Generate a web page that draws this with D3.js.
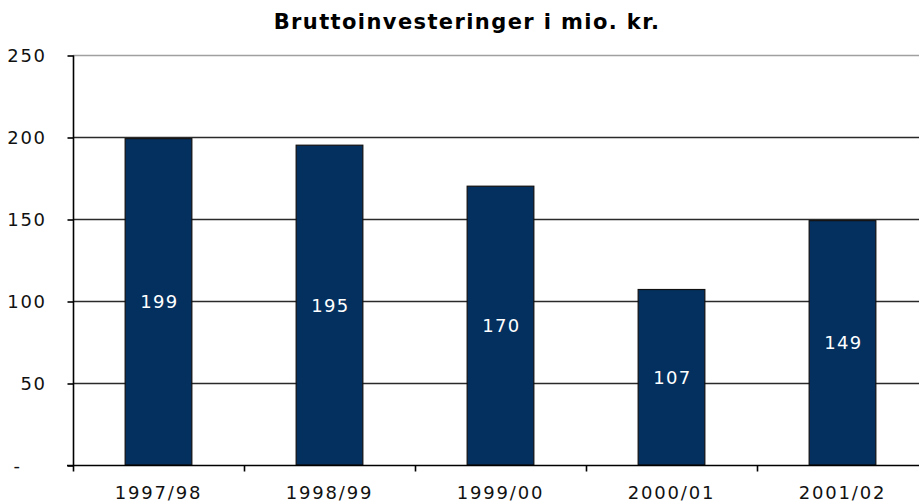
<!DOCTYPE html>
<html>
<head>
<meta charset="utf-8">
<script src="https://cdn.jsdelivr.net/npm/d3@7"></script>
<style>
  html, body { margin: 0; padding: 0; background: #fff; }
  svg { display: block; }
  text { font-family: "DejaVu Sans", Verdana, sans-serif; }
</style>
</head>
<body>
<svg id="chart" width="919" height="504"></svg>
<script>
const title = "Bruttoinvesteringer i mio. kr.";
const categories = ["1997/98", "1998/99", "1999/00", "2000/01", "2001/02"];
const values = [199, 195, 170, 107, 149];
const yTicks = [0, 50, 100, 150, 200, 250];
const yTickLabels = ["-", "50", "100", "150", "200", "250"];

const svg = d3.select("#chart");
const mLeft = 73, mRight = 928, mTop = 55, mBottom = 465;

const x = d3.scaleBand().domain(categories).range([mLeft, mRight]).padding(0);
const y = d3.scaleLinear().domain([0, 250]).range([mBottom, mTop]);
const barW = x.bandwidth() * 0.39;

// title
svg.append("text")
  .attr("x", 467).attr("y", 29)
  .attr("text-anchor", "middle")
  .attr("font-size", 21).attr("font-weight", "bold")
  .attr("letter-spacing", 1.4)
  .attr("fill", "#000")
  .text(title);

// gridlines
svg.append("g").selectAll("line")
  .data(yTicks.filter(d => d > 0))
  .join("line")
  .attr("x1", mLeft).attr("x2", 919)
  .attr("y1", d => Math.round(y(d)) + 0.5).attr("y2", d => Math.round(y(d)) + 0.5)
  .attr("stroke", d => d === 250 ? "#a0a0a0" : "#2a2a2a")
  .attr("stroke-width", 1.6);

// bars
svg.append("g").selectAll("rect")
  .data(values)
  .join("rect")
  .attr("x", (d, i) => x(categories[i]) + (x.bandwidth() - barW) / 2)
  .attr("y", d => y(d))
  .attr("width", barW)
  .attr("height", d => y(0) - y(d))
  .attr("fill", "#03305f")
  .attr("stroke", "#111")
  .attr("stroke-width", 1.2);

// bar labels
svg.append("g").selectAll("text")
  .data(values)
  .join("text")
  .attr("x", (d, i) => x(categories[i]) + x.bandwidth() / 2 + 1)
  .attr("y", d => (y(d) + y(0)) / 2)
  .attr("dy", "0.36em")
  .attr("text-anchor", "middle")
  .attr("font-size", 18).attr("letter-spacing", 1.3)
  .attr("fill", "#fff")
  .text(d => d);

// y axis
const yAxis = d3.axisLeft(y).tickValues(yTicks).tickSize(6)
  .tickFormat((d, i) => yTickLabels[i]);
const gy = svg.append("g").attr("transform", `translate(${mLeft + 0.5},0.5)`).call(yAxis);
gy.select(".domain").attr("stroke", "#000").attr("stroke-width", 1.6).attr("d", `M0,${mTop}V${mBottom}`);
gy.selectAll(".tick line").attr("stroke", "#000").attr("stroke-width", 1.6);
gy.selectAll(".tick text")
  .attr("font-family", "DejaVu Sans, Verdana, sans-serif")
  .attr("font-size", 18).attr("letter-spacing", 1.6)
  .attr("fill", "#111")
  .attr("x", d => d === 0 ? -60 : -27)
  .attr("text-anchor", d => d === 0 ? "start" : "end");

// x axis
const xAxis = d3.axisBottom(x).tickSize(0).tickSizeOuter(0);
const gx = svg.append("g").attr("transform", `translate(0,${mBottom + 0.5})`).call(xAxis);
gx.select(".domain").attr("stroke", "#000").attr("stroke-width", 1.6).attr("d", `M${mLeft - 6},0H919`);
gx.selectAll(".tick text")
  .attr("font-family", "DejaVu Sans, Verdana, sans-serif")
  .attr("font-size", 18).attr("letter-spacing", 1.8)
  .attr("fill", "#111")
  .attr("y", 21).attr("dy", "0.71em");
// category separator ticks
gx.append("g").selectAll("line")
  .data(categories)
  .join("line")
  .attr("x1", d => Math.round(x(d)) + 0.5).attr("x2", d => Math.round(x(d)) + 0.5)
  .attr("y1", 0).attr("y2", 6)
  .attr("stroke", "#000").attr("stroke-width", 1.6);
</script>
</body>
</html>
